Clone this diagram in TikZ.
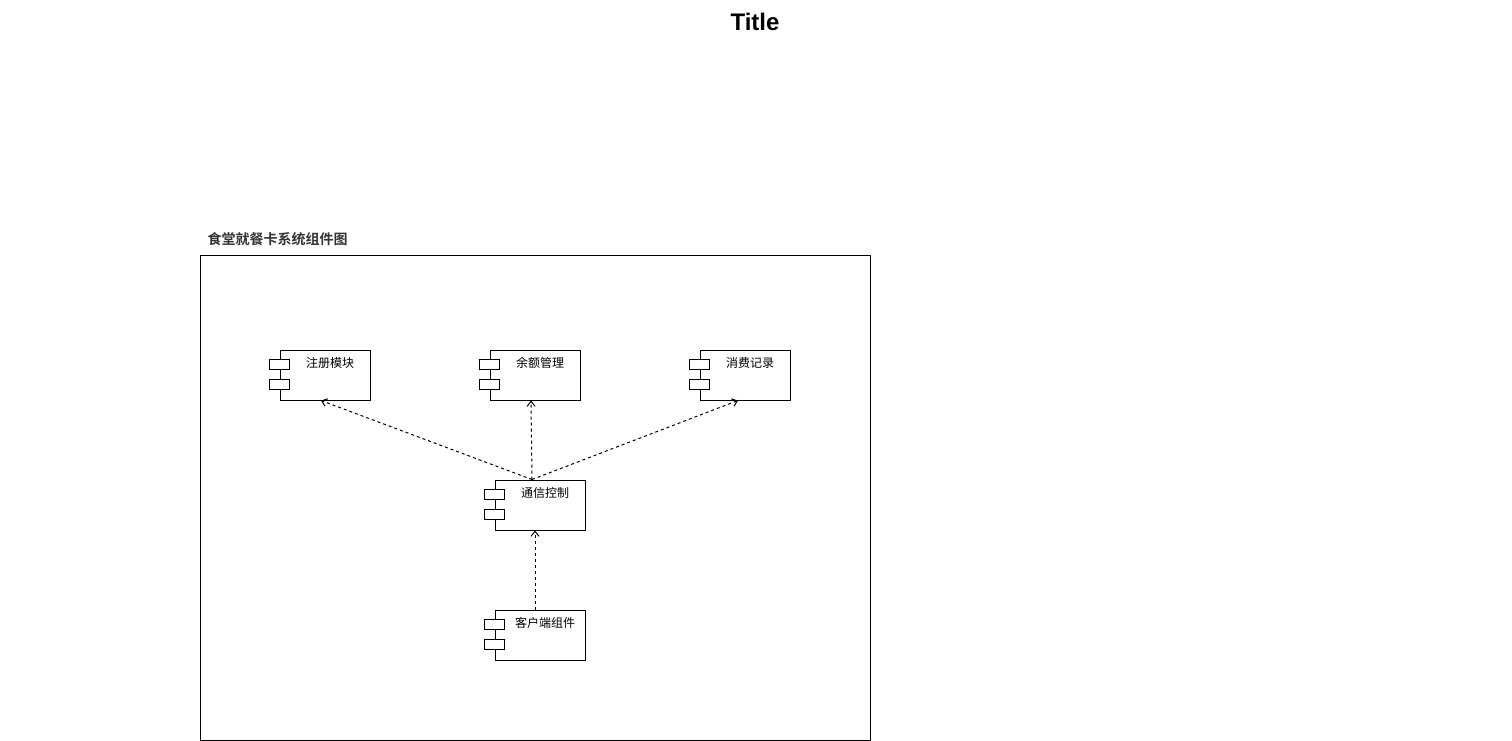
\documentclass[tikz,border=0pt]{standalone}
\usepackage{fontspec}
\setmainfont{Liberation Sans}
\newfontfamily\cjk{Noto Sans CJK SC}[BoldFont={Noto Sans CJK SC Bold}]
\usetikzlibrary{arrows.meta}
\definecolor{framegray}{HTML}{333333}

\begin{document}
\begin{tikzpicture}[x=1pt,y=-1pt,line width=1pt,
  comp/.style={draw,minimum width=90pt,minimum height=50pt,inner sep=0pt},
  port/.style={draw,fill=white},
  dep/.style={dash pattern=on 3pt off 3pt,-{Straight Barb[length=5pt,width=8pt]}},
  every label/.style={font=\cjk\fontsize{12}{14}\selectfont,anchor=center,xshift=5pt,yshift=-13.5pt}]
\useasboundingbox (0,0) rectangle (1512,741);
\node[font=\bfseries\fontsize{24}{28}\selectfont] (title) at (755,22) {Title};
\node[draw,minimum width=670pt,minimum height=485pt,inner sep=0pt] (frame) at (535,497.5) {};
\node[anchor=west,inner sep=0pt,text=framegray,font=\cjk\bfseries\fontsize{14}{16}\selectfont] (framelabel) at (207,239) {食堂就餐卡系统组件图};
\node[comp,label={north:注册模块}] (reg) at (325,375) {};
\node[comp,label={north:余额管理}] (bal) at (535,375) {};
\node[comp,label={north:消费记录}] (rec) at (745,375) {};
\node[comp,label={north:通信控制}] (com) at (540,505) {};
\node[comp,label={north:客户端组件}] (cli) at (540,635) {};
\foreach \c in {reg,bal,rec,com,cli} {
  \draw[port] (\c.north west) ++(-10,10) rectangle ++(20,10);
  \draw[port] (\c.north west) ++(-10,30) rectangle ++(20,10);
}
\draw[dep] ([xshift=-8pt]com.north) -- ([xshift=-4pt]reg.south);
\draw[dep] ([xshift=-8pt]com.north) -- ([xshift=-4pt]bal.south);
\draw[dep] ([xshift=-8pt]com.north) -- ([xshift=-7pt]rec.south);
\draw[dep] ([xshift=-5pt]cli.north) -- ([xshift=-5pt]com.south);
\end{tikzpicture}
\end{document}
